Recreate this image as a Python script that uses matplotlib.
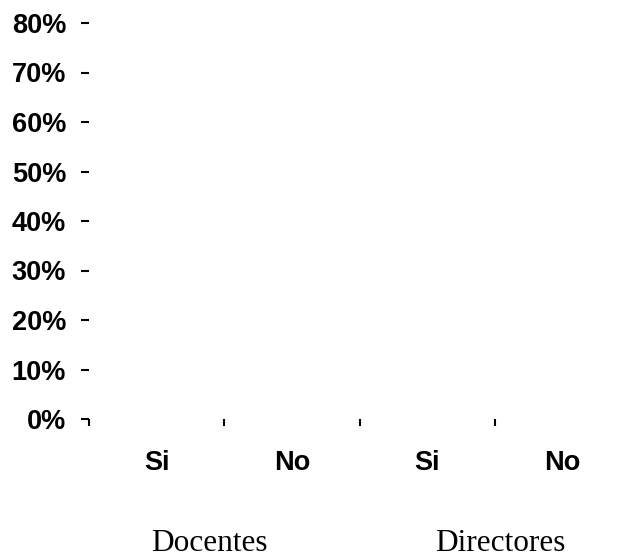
import matplotlib
matplotlib.use("Agg")
import matplotlib.pyplot as plt

# Data (all bars are empty / zero)
categories = ["Si", "No", "Si", "No"]
values = [0.0, 0.0, 0.0, 0.0]
groups = ["Docentes", "Directores"]
y_ticks = [0.0, 0.1, 0.2, 0.3, 0.4, 0.5, 0.6, 0.7, 0.8]
y_labels = ["0%", "10%", "20%", "30%", "40%", "50%", "60%", "70%", "80%"]

fig = plt.figure(figsize=(6.25, 5.58), dpi=100)
ax = fig.add_axes([89 / 625, 139 / 558, 541 / 625, 396 / 558])

pos = list(range(len(categories)))
ax.bar(pos, values, width=0.6, color="#4f81bd", linewidth=0)

ax.set_xlim(-0.5, len(categories) - 0.5)
ax.set_ylim(0, 0.8)
for s in ax.spines.values():
    s.set_visible(False)

# y axis: short dashes and bold percent labels
ax.set_yticks(y_ticks)
ax.set_yticklabels(y_labels, fontfamily="Liberation Sans", fontweight="bold", fontsize=19.5)
ax.tick_params(axis="y", direction="out", length=5.5, width=1.5, pad=11)

# x axis: ticks on the category boundaries, labels in the middle
ax.set_xticks([p - 0.5 for p in pos] + [len(categories) - 0.5])
ax.set_xticklabels([])
ax.tick_params(axis="x", which="major", direction="out", length=5, width=1.5)
ax.set_xticks(pos, minor=True)
ax.set_xticklabels(categories, minor=True, fontfamily="Liberation Sans",
                   fontweight="bold", fontsize=19.5)
ax.tick_params(axis="x", which="minor", length=0, pad=22)

# group names under the categories
fig.text(209 / 625, 7 / 558, groups[0], ha="center", va="baseline",
         fontfamily="Liberation Serif", fontsize=22.5)
fig.text(500 / 625, 7 / 558, groups[1], ha="center", va="baseline",
         fontfamily="Liberation Serif", fontsize=22.5)

fig.savefig("out.png", dpi=100)
